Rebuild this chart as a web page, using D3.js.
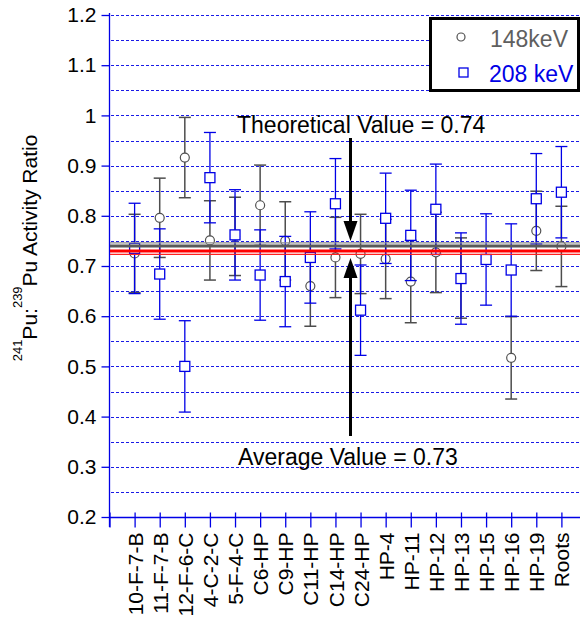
<!DOCTYPE html>
<html>
<head>
<meta charset="utf-8">
<script src="https://cdn.jsdelivr.net/npm/d3@7"></script>
<style>
  html, body { margin: 0; padding: 0; background: #fff; }
  svg { display: block; font-family: "Liberation Sans", Arial, Helvetica, sans-serif; }
</style>
</head>
<body>
<div id="chart"></div>
<script>
// Sample identifiers along the x axis
const categories = ["10-F-7-B","11-F-7-B","12-F-6-C","4-C-2-C","5-F-4-C","C6-HP","C9-HP",
  "C11-HP","C14-HP","C24-HP","HP-4","HP-11","HP-12","HP-13","HP-15","HP-16","HP-19","Roots"];

// 241Pu:239Pu ratio measured with the 148 keV line (null = no result)
const ratio148 = [0.725, 0.796, 0.916, 0.751, 0.759, 0.821, 0.750, 0.660, 0.717, 0.724,
  0.714, 0.669, 0.727, 0.676, null, 0.517, 0.770, 0.739];
const err148 = [0.078, 0.079, 0.080, 0.079, 0.078, 0.080, 0.078, 0.080, 0.080, 0.079,
  0.079, 0.082, 0.080, 0.080, null, 0.082, 0.079, 0.080];

// Same ratio measured with the 208 keV line
const ratio208 = [0.735, 0.684, 0.500, 0.876, 0.762, 0.682, 0.669, 0.717, 0.824, 0.612,
  0.795, 0.761, 0.813, 0.675, 0.713, 0.692, 0.834, 0.847];
const err208 = [0.090, 0.090, 0.091, 0.090, 0.090, 0.090, 0.090, 0.091, 0.090, 0.090,
  0.090, 0.090, 0.090, 0.091, 0.091, 0.092, 0.090, 0.091];

// Reference values
const theoreticalValue = 0.74;
const averageValue = 0.73;

// Axis ticks
const yTicks = [0.2, 0.3, 0.4, 0.5, 0.6, 0.7, 0.8, 0.9, 1.0, 1.1, 1.2];
const yGrid = [0.25, 0.3, 0.35, 0.4, 0.45, 0.5, 0.55, 0.6, 0.65, 0.7, 0.75, 0.8, 0.85,
  0.9, 0.95, 1.0, 1.05, 1.1, 1.15, 1.2];

const W = 580, H = 621;
const BLUE = "#0000e6", GRAY = "#4d4d4d";
const FONT = '"Liberation Sans", Arial, Helvetica, sans-serif';

const svg = d3.select("#chart").append("svg")
  .attr("width", W).attr("height", H);

const y = d3.scaleLinear().domain([0.2, 1.2]).range([517, 15]);
// slot 0 is the axis origin, samples sit at slots 1..18
const x = d3.scaleLinear().domain([0, 19]).range([109.5, 586.5]);
const xi = i => x(i + 1);

// Dashed horizontal grid
svg.append("g").selectAll("line").data(yGrid).join("line")
  .attr("x1", 111).attr("x2", W)
  .attr("y1", d => Math.round(y(d)) + 0.5).attr("y2", d => Math.round(y(d)) + 0.5)
  .attr("stroke", "#1a1ae6").attr("stroke-width", 1)
  .attr("stroke-dasharray", "3,2");

// Y axis
const yAxis = svg.append("g")
  .attr("transform", "translate(109.5,0)")
  .call(d3.axisLeft(y).tickValues(yTicks).tickSize(8).tickPadding(5)
    .tickFormat(d3.format("~g")));
yAxis.select(".domain").attr("d", "M0,13V527").attr("stroke", BLUE).attr("stroke-width", 1.3);
yAxis.selectAll(".tick line").attr("stroke", BLUE).attr("stroke-width", 1.3);
yAxis.selectAll(".tick text").attr("font-size", 21).attr("font-family", FONT).attr("fill", "#000");

// X axis
const xAxis = svg.append("g")
  .attr("transform", "translate(0,517.5)")
  .call(d3.axisBottom(x).tickValues(d3.range(0, 19)).tickSize(10).tickPadding(0)
    .tickFormat(d => d === 0 ? "" : categories[d - 1]));
xAxis.select(".domain").attr("d", `M109.5,0H${W}`).attr("stroke", BLUE).attr("stroke-width", 1.5);
xAxis.selectAll(".tick line").attr("y1", -5).attr("y2", 10)
  .attr("stroke", BLUE).attr("stroke-width", 1.3);
xAxis.selectAll(".tick text")
  .attr("font-size", 21).attr("font-family", FONT).attr("fill", "#000")
  .attr("text-anchor", "end")
  .attr("transform", "rotate(-90)")
  .attr("x", -15).attr("y", 0).attr("dy", "0.36em");

// Y axis title with superscript mass numbers
const title = svg.append("text")
  .attr("transform", "translate(37,248) rotate(-90)")
  .attr("text-anchor", "middle")
  .attr("font-family", FONT).attr("font-size", 21).attr("fill", "#000");
title.append("tspan").attr("font-size", 13).attr("dy", -15).text("241");
title.append("tspan").attr("dy", 15).text("Pu:");
title.append("tspan").attr("font-size", 13).attr("dy", -15).text("239");
title.append("tspan").attr("dy", 15).text("Pu Activity Ratio");

// Error bars + markers for one series
function drawSeries(vals, errs, color, width, marker) {
  const data = vals.map((v, i) => ({ i, v, e: errs[i] })).filter(d => d.v != null);
  const g = svg.append("g");
  g.selectAll("line.stem").data(data).join("line").attr("class", "stem")
    .attr("x1", d => xi(d.i)).attr("x2", d => xi(d.i))
    .attr("y1", d => y(d.v - d.e)).attr("y2", d => y(d.v + d.e))
    .attr("stroke", color).attr("stroke-width", width);
  ["top", "bot"].forEach(k => {
    g.selectAll("line." + k).data(data).join("line").attr("class", k)
      .attr("x1", d => xi(d.i) - 6).attr("x2", d => xi(d.i) + 6)
      .attr("y1", d => y(k === "top" ? d.v + d.e : d.v - d.e))
      .attr("y2", d => y(k === "top" ? d.v + d.e : d.v - d.e))
      .attr("stroke", color).attr("stroke-width", width);
  });
  if (marker === "circle") {
    g.selectAll("circle").data(data).join("circle")
      .attr("cx", d => xi(d.i)).attr("cy", d => y(d.v)).attr("r", 4.5)
      .attr("fill", "#fff").attr("stroke", "#505050").attr("stroke-width", 1.2);
  } else {
    g.selectAll("rect").data(data).join("rect")
      .attr("x", d => xi(d.i) - 5).attr("y", d => y(d.v) - 5)
      .attr("width", 10).attr("height", 10)
      .attr("fill", "#fff").attr("stroke", BLUE).attr("stroke-width", 1.3);
  }
}
drawSeries(ratio148, err148, GRAY, 1.5, "circle");
drawSeries(ratio208, err208, BLUE, 1.3, "square");

// Theoretical (grey) and average (red) reference lines, each with a thin companion stroke
function refLine(v, main, shade, w, shadeOffset) {
  svg.append("line").attr("x1", 110).attr("x2", W)
    .attr("y1", y(v) + shadeOffset).attr("y2", y(v) + shadeOffset)
    .attr("stroke", shade).attr("stroke-width", 1.2);
  svg.append("line").attr("x1", 110).attr("x2", W)
    .attr("y1", y(v)).attr("y2", y(v))
    .attr("stroke", main).attr("stroke-width", w);
}
refLine(theoreticalValue, "#595959", "#8c8c8c", 3, -3);
refLine(averageValue, "#ff0000", "#ff2020", 3, 3.5);

// Annotation arrows
const ax = 350.5;
const tTip = y(theoreticalValue) - 5;
svg.append("line").attr("x1", ax).attr("x2", ax).attr("y1", 138).attr("y2", tTip - 18)
  .attr("stroke", "#000").attr("stroke-width", 3);
svg.append("path").attr("d", `M${ax - 7},${tTip - 20}L${ax + 7},${tTip - 20}L${ax},${tTip}Z`)
  .attr("fill", "#000");
const aTip = y(averageValue) + 7;
svg.append("line").attr("x1", ax).attr("x2", ax).attr("y1", 436).attr("y2", aTip + 18)
  .attr("stroke", "#000").attr("stroke-width", 3);
svg.append("path").attr("d", `M${ax - 7},${aTip + 20}L${ax + 7},${aTip + 20}L${ax},${aTip}Z`)
  .attr("fill", "#000");

svg.append("text").attr("x", 237).attr("y", 133)
  .attr("font-family", FONT).attr("font-size", 23).attr("fill", "#000")
  .text("Theoretical Value = " + theoreticalValue.toFixed(2));
svg.append("text").attr("x", 238).attr("y", 465)
  .attr("font-family", FONT).attr("font-size", 23).attr("fill", "#000")
  .text("Average Value = " + averageValue.toFixed(2));

// Legend
const lg = svg.append("g");
lg.append("rect").attr("x", 430.5).attr("y", 18.5).attr("width", 148).attr("height", 72)
  .attr("fill", "#fff").attr("stroke", "#000").attr("stroke-width", 3);
lg.append("circle").attr("cx", 461).attr("cy", 37).attr("r", 4)
  .attr("fill", "#fff").attr("stroke", "#505050").attr("stroke-width", 1.2);
lg.append("text").attr("x", 490).attr("y", 47)
  .attr("font-family", FONT).attr("font-size", 23).attr("fill", "#5f5f5f").text("148keV");
lg.append("rect").attr("x", 459).attr("y", 68).attr("width", 9).attr("height", 9)
  .attr("fill", "#fff").attr("stroke", BLUE).attr("stroke-width", 1.3);
lg.append("text").attr("x", 489).attr("y", 82)
  .attr("font-family", FONT).attr("font-size", 23).attr("fill", BLUE).text("208 keV");
</script>
</body>
</html>
